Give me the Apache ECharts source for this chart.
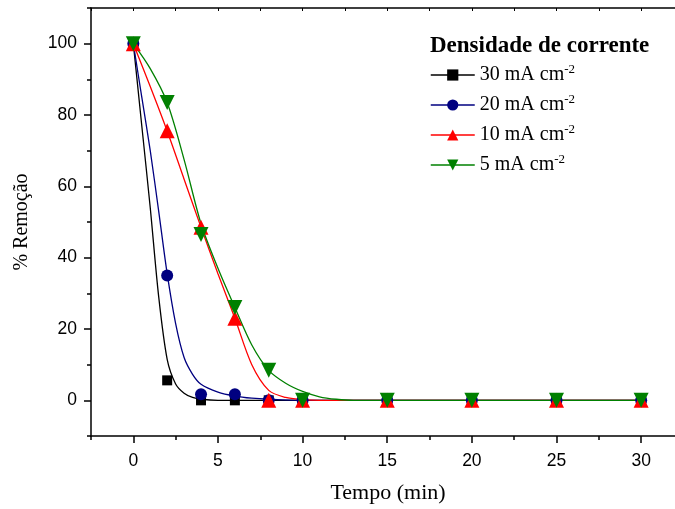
<!DOCTYPE html>
<html>
<head>
<meta charset="utf-8">
<script src="https://cdn.jsdelivr.net/npm/echarts@6/dist/echarts.min.js"></script>
<style>html,body{margin:0;padding:0;background:#fff}#chart{width:675px;height:509px}</style>
</head>
<body>
<div id="chart"></div>
<script>
// dados experimentais
const tempo = [0, 2, 4, 6, 8, 10, 15, 20, 25, 30]
const rem30 = [100, 5.6, 0, 0, 0, 0, 0, 0, 0, 0]
const rem20 = [100, 35, 1.7, 1.7, 0, 0, 0, 0, 0, 0]
const rem10 = [100, 75.6, 48.5, 23, 0, 0, 0, 0, 0, 0]
const rem5 = [100, 83.5, 46.5, 26, 8.4, 0, 0, 0, 0, 0]

// curvas de ajuste
const ajuste30 = [[0, 100], [0.5, 77], [1, 54], [1.5, 29], [2, 11.5], [2.5, 4.6], [3, 2], [3.5, 0.8], [4, 0.3], [5, 0], [30, 0]]
const ajuste20 = [[0, 100], [0.5, 85], [1, 70], [1.5, 53], [2, 35.5], [2.5, 21.5], [3, 12], [3.5, 7.3], [4, 4.5], [5, 2.3], [6, 1.2], [7, 0.6], [8, 0.3], [10, 0], [30, 0]]
const ajuste10 = [[0, 100], [1, 88], [2, 75.5], [3, 62], [4, 48.5], [5, 35.5], [6, 23], [7, 10], [8, 2.8], [9, 0.8], [10, 0.2], [11, 0], [30, 0]]
const ajuste5 = [[0, 100], [1, 93], [2, 83.5], [3, 67.5], [4, 49.5], [5, 37], [6, 26], [7, 15.5], [8, 8.4], [9, 4.8], [10, 2.5], [11, 1], [12, 0.3], [13, 0], [30, 0]]

const nomes = ['30 mA cm', '20 mA cm', '10 mA cm', '5 mA cm']
const cores = ['#000000', '#000080', '#ff0000', '#008000']
const simbolos = ['rect', 'circle', 'triangle', 'triangle']
const tamanhos = [10, 12, 15, 15]
const rotacoes = [0, 0, 0, 180]

const yMajor = [0, 20, 40, 60, 80, 100]
const yMinor = [-10, 10, 30, 50, 70, 90, 110]
const xMajor = [0, 5, 10, 15, 20, 25, 30]
const xMinor = [-2.5, 2.5, 7.5, 12.5, 17.5, 22.5, 27.5]

const chart = echarts.init(document.getElementById('chart'))

const serif = 'Liberation Serif'
const sans = 'Liberation Sans'
const eixo = { onZero: false, lineStyle: { color: '#000', width: 1.5 } }

const medidas = [rem30, rem20, rem10, rem5]
const ajustes = [ajuste30, ajuste20, ajuste10, ajuste5]

const seriesAjuste = ajustes.map((d, i) => ({
  type: 'line',
  name: 'ajuste' + i,
  data: d,
  smooth: 0.3,
  showSymbol: false,
  symbol: 'none',
  silent: true,
  lineStyle: { color: cores[i], width: 1.3 },
  z: 2
}))

const seriesMedidas = medidas.map((d, i) => ({
  type: 'line',
  name: nomes[i],
  data: tempo.map((t, k) => [t, d[k]]),
  symbol: simbolos[i],
  symbolSize: tamanhos[i],
  symbolRotate: rotacoes[i],
  showAllSymbol: true,
  itemStyle: { color: cores[i] },
  lineStyle: { color: cores[i], width: 0, opacity: 0 },
  z: 3
}))

chart.setOption({
  animation: false,
  backgroundColor: '#fff',
  title: {
    text: 'Densidade de corrente',
    left: 425,
    top: 30,
    textStyle: { fontFamily: serif, fontWeight: 'bold', fontSize: 23, color: '#000' }
  },
  legend: {
    data: nomes,
    orient: 'vertical',
    left: 425,
    top: 58,
    itemWidth: 44,
    itemHeight: 14,
    itemGap: 8,
    lineStyle: { width: 1.5, opacity: 1 },
    formatter: name => `{t|${name}}{s|-2}`,
    textStyle: {
      rich: {
        t: { fontFamily: serif, fontSize: 20, color: '#000', lineHeight: 24, verticalAlign: 'middle' },
        s: { fontFamily: serif, fontSize: 13, color: '#000', verticalAlign: 'top', lineHeight: 13 }
      }
    }
  },
  grid: { left: 91, right: -2, top: 8, bottom: 73, containLabel: false },
  xAxis: [
    {
      type: 'value', min: -2.5, max: 32, position: 'bottom',
      name: 'Tempo (min)', nameLocation: 'middle', nameGap: 46,
      nameTextStyle: { fontFamily: serif, fontSize: 22, color: '#000', padding: [0, 0, 0, 10] },
      axisLine: eixo,
      axisTick: { customValues: xMajor, length: 7, lineStyle: { color: '#000', width: 1.5 } },
      axisLabel: { customValues: xMajor, margin: 16, fontFamily: sans, fontSize: 17.5, color: '#000' },
      splitLine: { show: false }
    },
    {
      type: 'value', min: -2.5, max: 32, position: 'bottom',
      axisLine: { show: false, onZero: false },
      axisTick: { customValues: xMinor, length: 4, lineStyle: { color: '#000', width: 1.5 } },
      axisLabel: { show: false },
      splitLine: { show: false }
    },
    {
      type: 'value', min: -2.5, max: 32, position: 'top',
      axisLine: eixo,
      axisTick: { customValues: xMajor.concat(xMinor), inside: true, length: 3, lineStyle: { color: '#000', width: 1 } },
      axisLabel: { show: false },
      splitLine: { show: false }
    }
  ],
  yAxis: [
    {
      type: 'value', min: -10, max: 110, position: 'left',
      name: '% Remoção', nameLocation: 'middle', nameGap: 59,
      nameTextStyle: { fontFamily: serif, fontSize: 20, color: '#000' },
      axisLine: eixo,
      axisTick: { customValues: yMajor, length: 7, lineStyle: { color: '#000', width: 1.5 } },
      axisLabel: { customValues: yMajor, margin: 14, fontFamily: sans, fontSize: 17.5, color: '#000' },
      splitLine: { show: false }
    },
    {
      type: 'value', min: -10, max: 110, position: 'left',
      axisLine: { show: false, onZero: false },
      axisTick: { customValues: yMinor, length: 4, lineStyle: { color: '#000', width: 1.5 } },
      axisLabel: { show: false },
      splitLine: { show: false }
    }
  ],
  series: seriesAjuste.concat(seriesMedidas)
})
</script>
</body>
</html>
